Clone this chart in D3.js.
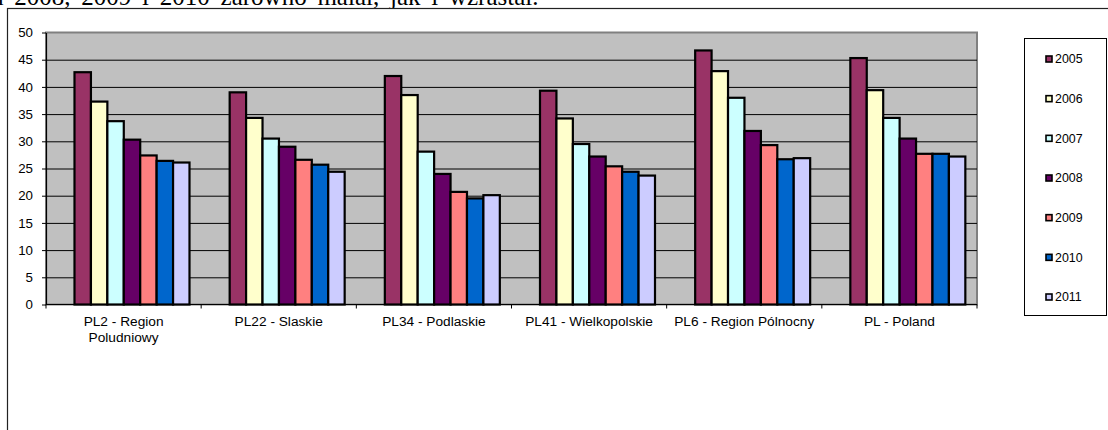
<!DOCTYPE html>
<html>
<head>
<meta charset="utf-8">
<script src="https://cdn.jsdelivr.net/npm/d3@7"></script>
<style>
  body { margin: 0; background: #fff; }
  svg { display: block; }
  .tick text { font-family: Arial, "Liberation Sans", sans-serif; fill: #000; }
</style>
</head>
<body>
<svg width="1108" height="430"></svg>
<script>
// data
var categories = ["PL2 - Region Poludniowy", "PL22 - Slaskie", "PL34 - Podlaskie",
                  "PL41 - Wielkopolskie", "PL6 - Region Pólnocny", "PL - Poland"];
var catLabels = [["PL2 - Region", "Poludniowy"], ["PL22 - Slaskie"], ["PL34 - Podlaskie"],
                 ["PL41 - Wielkopolskie"], ["PL6 - Region Pólnocny"], ["PL - Poland"]];
var years = ["2005", "2006", "2007", "2008", "2009", "2010", "2011"];

// one array per year, one value per category
var v2005 = [42.7, 39.0, 42.0, 39.3, 46.7, 45.3];
var v2006 = [37.3, 34.3, 38.5, 34.2, 42.9, 39.4];
var v2007 = [33.7, 30.5, 28.1, 29.5, 38.0, 34.3];
var v2008 = [30.3, 29.0, 24.0, 27.2, 31.9, 30.5];
var v2009 = [27.4, 26.6, 20.7, 25.4, 29.3, 27.7];
var v2010 = [26.4, 25.7, 19.5, 24.4, 26.7, 27.7];
var v2011 = [26.1, 24.4, 20.1, 23.7, 26.9, 27.2];
var yTicks = [0, 5, 10, 15, 20, 25, 30, 35, 40, 45, 50];

var series = [v2005, v2006, v2007, v2008, v2009, v2010, v2011];
var colors = ["#993366", "#FFFFCC", "#CCFFFF", "#660066", "#FF8080", "#0066CC", "#CCCCFF"];

var svg = d3.select("svg");
var font = "Arial, 'Liberation Sans', sans-serif";

// piece of the document text above the chart, cut off at the top
var para = svg.append("text")
    .attr("x", -20)
    .attr("y", 4.5)
    .style("font-family", "'Times New Roman', 'Liberation Serif', serif")
    .style("font-size", "25px")
    .text("ch 2008, 2009 i 2010 zarówno malał, jak i wzrastał.");
// stretch word spacing so the line ends where it does in the page
var natural = para.node().getComputedTextLength();
para.style("word-spacing", Math.max(0, (563 - natural) / 10) + "px");

// chart frame
svg.append("rect")
    .attr("x", 7.5).attr("y", 8.5)
    .attr("width", 1200).attr("height", 500)
    .attr("fill", "#fff")
    .attr("stroke", "#222").attr("stroke-width", 1.2);

var plot = {left: 46, right: 977, top: 32.5, bottom: 304.5};

var x = d3.scaleBand().domain(categories).range([plot.left, plot.right]).padding(0);
var xi = d3.scaleBand().domain(years).range([28.5, 143.5]).padding(0);
var y = d3.scaleLinear().domain([0, 50]).range([plot.bottom, plot.top]);

// plot area
svg.append("rect")
    .attr("x", plot.left).attr("y", plot.top)
    .attr("width", plot.right - plot.left).attr("height", plot.bottom - plot.top)
    .attr("fill", "#C0C0C0")
    .attr("stroke", "#808080").attr("stroke-width", 2);

// gridlines
svg.append("g")
    .attr("transform", "translate(" + plot.left + ",0)")
    .call(d3.axisLeft(y).tickValues(yTicks.slice(1, -1)).tickSize(-(plot.right - plot.left)).tickFormat(""))
    .call(function (g) { g.select(".domain").remove(); })
    .selectAll("line").attr("stroke", "#000");

// bars
var groups = svg.append("g").selectAll("g")
    .data(categories)
    .enter().append("g")
    .attr("transform", function (d) { return "translate(" + x(d) + ",0)"; });

groups.selectAll("rect")
    .data(function (c, ci) {
        return years.map(function (yr, si) { return {year: yr, si: si, value: series[si][ci]}; });
    })
    .enter().append("rect")
    .attr("x", function (d) { return xi(d.year); })
    .attr("width", xi.bandwidth())
    .attr("y", function (d) { return y(d.value); })
    .attr("height", function (d) { return y(0) - y(d.value); })
    .attr("fill", function (d) { return colors[d.si]; })
    .attr("stroke", "#000")
    .attr("stroke-width", 2.2);

// y axis
var yAxis = svg.append("g")
    .attr("transform", "translate(" + plot.left + ",0)")
    .call(d3.axisLeft(y).tickValues(yTicks).tickSize(4).tickPadding(9).tickSizeOuter(0));
yAxis.select(".domain").attr("stroke", "#000").attr("stroke-width", 1.2);
yAxis.selectAll(".tick text").style("font-size", "13.3px");

// x axis with ticks at category boundaries
var xAxis = svg.append("g")
    .attr("transform", "translate(0," + plot.bottom + ")");
xAxis.append("path")
    .attr("d", "M" + plot.left + ",0H" + plot.right)
    .attr("stroke", "#000").attr("stroke-width", 1.2);
xAxis.selectAll("line")
    .data(categories.concat([null]))
    .enter().append("line")
    .attr("x1", function (d) { return d === null ? plot.right : x(d); })
    .attr("x2", function (d) { return d === null ? plot.right : x(d); })
    .attr("y1", 0).attr("y2", 4)
    .attr("stroke", "#000");

var labels = xAxis.selectAll("text")
    .data(categories)
    .enter().append("text")
    .attr("x", function (d) { return x(d) + x.bandwidth() / 2; })
    .attr("y", 21)
    .attr("text-anchor", "middle")
    .style("font-family", font)
    .style("font-size", "13.7px");
labels.selectAll("tspan")
    .data(function (d, i) { return catLabels[i]; })
    .enter().append("tspan")
    .attr("x", function () { return d3.select(this.parentNode).attr("x"); })
    .attr("dy", function (d, i) { return i === 0 ? 0 : 16; })
    .text(function (d) { return d; });

// legend
var legend = svg.append("g");
legend.append("rect")
    .attr("x", 1024.5).attr("y", 38.5)
    .attr("width", 82).attr("height", 277)
    .attr("fill", "#fff").attr("stroke", "#000");

var ly = d3.scalePoint().domain(years).range([59, 297]);
var items = legend.selectAll("g.item")
    .data(years)
    .enter().append("g")
    .attr("class", "item")
    .attr("transform", function (d) { return "translate(1046," + ly(d) + ")"; });
items.append("rect")
    .attr("x", 0).attr("y", -3)
    .attr("width", 6).attr("height", 6)
    .attr("fill", function (d, i) { return colors[i]; })
    .attr("stroke", "#000").attr("stroke-width", 1.6);
items.append("text")
    .attr("x", 9)
    .attr("dy", "0.36em")
    .style("font-family", font)
    .style("font-size", "12.4px")
    .text(function (d) { return d; });
</script>
</body>
</html>
